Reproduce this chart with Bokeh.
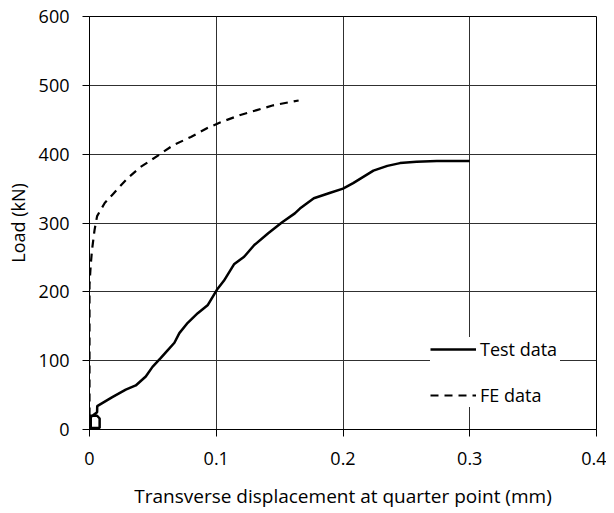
from bokeh.plotting import figure
from bokeh.models import Range1d, Legend, LegendItem, FixedTicker
from bokeh.embed import file_html
from bokeh.resources import INLINE

# Test data (solid)
test_x = [0, 0, 0.006, 0.008, 0.008, 0.001, 0.001, 0.006, 0.0061, 0.018, 0.0286, 0.0365,
          0.0444, 0.0497, 0.0563, 0.0616, 0.067, 0.0709, 0.0775, 0.0854, 0.0934, 0.1005,
          0.106, 0.114, 0.122, 0.130, 0.141, 0.152, 0.162, 0.166, 0.177, 0.190, 0.200,
          0.208, 0.216, 0.224, 0.235, 0.245, 0.258, 0.274, 0.300]
test_y = [0, 20, 20, 16, 2, 2, 18, 25, 34, 47, 58, 64,
          77, 91, 104, 115, 126, 140, 155, 169, 181, 203,
          216, 240, 251, 268, 285, 301, 314, 321, 336, 344, 350,
          358, 367, 376, 383, 387, 389, 390, 390]

# FE data (dashed)
fe_x = [0, 0, 0.001, 0.002, 0.004, 0.006, 0.012, 0.019, 0.030, 0.040, 0.054, 0.066,
        0.080, 0.093, 0.103, 0.119, 0.132, 0.145, 0.165]
fe_y = [0, 210, 240, 261, 290, 310, 329, 343, 365, 381, 398, 413,
        425, 438, 446, 457, 464, 471, 478]

x_ticks = [0, 0.1, 0.2, 0.3, 0.4]
y_ticks = [0, 100, 200, 300, 400, 500, 600]

FONT = "Open Sans"

p = figure(width=606, height=511, output_backend="svg", toolbar_location=None,
           x_range=Range1d(0, 0.4), y_range=Range1d(0, 600),
           min_border_left=89, min_border_right=10, min_border_top=16, min_border_bottom=82)
p.outline_line_color = "black"
p.outline_line_width = 1

r1 = p.line(test_x, test_y, line_color="black", line_width=2.5)
r2 = p.line(fe_x, fe_y, line_color="black", line_width=2.2, line_dash="8 6")

for ax, ticks in ((p.xaxis, x_ticks), (p.yaxis, y_ticks)):
    ax.ticker = FixedTicker(ticks=ticks)
    ax.minor_tick_line_color = None
    ax.major_tick_in = 0
    ax.major_tick_out = 7
    ax.axis_line_color = "black"
    ax.major_tick_line_color = "black"
    ax.major_label_text_font = FONT
    ax.major_label_text_font_size = "18px"
    ax.major_label_text_color = "black"
    ax.axis_label_text_font = FONT
    ax.axis_label_text_font_size = "19px"
    ax.axis_label_text_font_style = "normal"
    ax.axis_label_text_color = "black"

p.xaxis.major_label_overrides = {0: "0", 0.1: "0.1", 0.2: "0.2", 0.3: "0.3", 0.4: "0.4"}
p.xaxis.major_label_standoff = 15
p.yaxis.major_label_standoff = 13
p.xaxis.axis_label = "Transverse displacement at quarter point (mm)"
p.yaxis.axis_label = "Load (kN)"
p.yaxis.axis_label_text_font_size = "18px"
p.xaxis.axis_label_standoff = 15
p.yaxis.axis_label_standoff = 6

p.grid.grid_line_color = "#303030"
p.grid.grid_line_width = 1
p.xgrid.ticker = FixedTicker(ticks=x_ticks)
p.ygrid.ticker = FixedTicker(ticks=y_ticks)

legend = Legend(items=[LegendItem(label="Test data", renderers=[r1]),
                       LegendItem(label="FE data", renderers=[r2])],
                location=(341, 22), padding=12, spacing=22, glyph_width=46,
                glyph_height=20, label_standoff=4, label_width=80,
                border_line_color=None, background_fill_color="white",
                background_fill_alpha=1.0, label_text_font=FONT,
                label_text_font_size="18px", label_text_color="black", margin=0)
p.add_layout(legend, "center")

open("out.html", "w").write(file_html(p, INLINE))
